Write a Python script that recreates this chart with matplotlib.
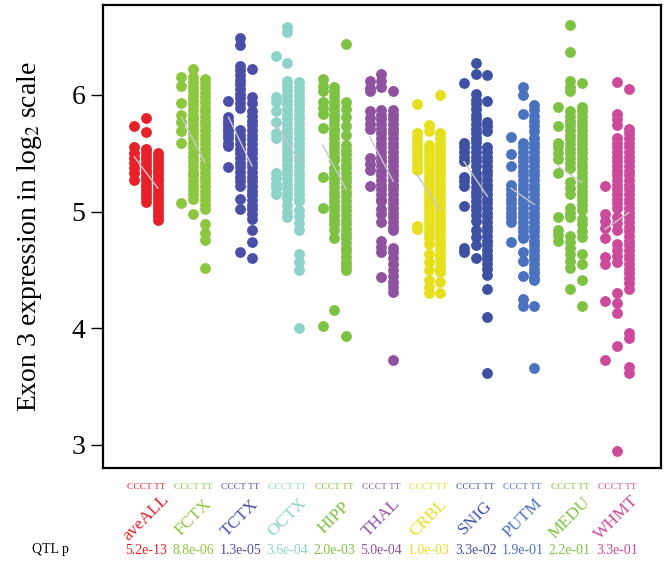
import numpy as np
import matplotlib
matplotlib.use('Agg')
import matplotlib.pyplot as plt

plt.rcParams['font.family'] = ['Liberation Serif', 'DejaVu Serif']
plt.rcParams['mathtext.fontset'] = 'stix'

tissues = ['aveALL', 'FCTX', 'TCTX', 'OCTX', 'HIPP', 'THAL', 'CRBL', 'SNIG', 'PUTM', 'MEDU', 'WHMT']
colors = ['#E8202A', '#8DC63F', '#4B4FA8', '#8ED3C7', '#7DC242', '#8E52A1',
          '#E6E01E', '#3F51A3', '#4A72BF', '#7DC242', '#CC4A9C']
pvals = ['5.2e-13', '8.8e-06', '1.3e-05', '3.6e-04', '2.0e-03', '5.0e-04',
         '1.0e-03', '3.3e-02', '1.9e-01', '2.2e-01', '3.3e-01']
genotype_label = 'CCCT TT'

# expression values per tissue / genotype
aveALL_CC = [5.73, 5.55, 5.50, 5.46, 5.42, 5.37, 5.33, 5.27]
aveALL_CT = [5.80, 5.68, 5.54, 5.51, 5.48, 5.45, 5.42, 5.39, 5.36, 5.33, 5.30, 5.27, 5.24, 5.21, 5.18, 5.15, 5.12, 5.08]
aveALL_TT = [5.50, 5.47, 5.44, 5.41, 5.38, 5.35, 5.32, 5.29, 5.26, 5.23, 5.20, 5.17, 5.14, 5.11, 5.08, 5.05, 5.02, 4.99, 4.96, 4.93]

FCTX_CC = [6.15, 6.08, 5.93, 5.83, 5.77, 5.69, 5.59, 5.07]
FCTX_CT = [6.22, 6.15, 6.11, 6.07, 6.03, 5.99, 5.95, 5.91, 5.87, 5.83, 5.79, 5.75, 5.71, 5.67, 5.63, 5.59, 5.55, 5.51, 5.47, 5.43, 5.39, 5.35, 5.31, 5.27, 5.23, 5.19, 5.15, 5.11, 4.98]
FCTX_TT = [6.14, 6.10, 6.06, 6.02, 5.98, 5.94, 5.90, 5.86, 5.82, 5.78, 5.74, 5.70, 5.66, 5.62, 5.58, 5.54, 5.50, 5.46, 5.42, 5.38, 5.34, 5.30, 5.26, 5.22, 5.18, 5.14, 5.10, 5.06, 5.02, 4.89, 4.82, 4.76, 4.52]

TCTX_CC = [5.95, 5.81, 5.78, 5.75, 5.72, 5.69, 5.66, 5.63, 5.59, 5.56, 5.38]
TCTX_CT = [6.49, 6.43, 6.25, 6.21, 6.17, 6.13, 6.09, 6.05, 6.01, 5.97, 5.93, 5.89, 5.70, 5.66, 5.62, 5.58, 5.54, 5.50, 5.46, 5.42, 5.38, 5.34, 5.30, 5.26, 5.22, 5.11, 5.02, 4.65]
TCTX_TT = [6.22, 5.98, 5.93, 5.86, 5.82, 5.78, 5.74, 5.70, 5.66, 5.62, 5.58, 5.54, 5.50, 5.46, 5.42, 5.38, 5.34, 5.30, 5.26, 5.22, 5.18, 5.14, 5.10, 5.06, 5.02, 4.98, 4.94, 4.84, 4.74, 4.60]

OCTX_CC = [6.33, 5.98, 5.94, 5.86, 5.77, 5.67, 5.63, 5.33, 5.29, 5.24, 5.20, 5.15]
OCTX_CT = [6.58, 6.54, 6.27, 6.12, 6.08, 6.04, 6.00, 5.96, 5.92, 5.88, 5.84, 5.80, 5.76, 5.72, 5.68, 5.64, 5.60, 5.56, 5.52, 5.48, 5.44, 5.40, 5.36, 5.32, 5.28, 5.24, 5.20, 5.16, 5.12, 5.06, 5.00, 4.95]
OCTX_TT = [6.11, 6.07, 6.03, 5.99, 5.95, 5.91, 5.87, 5.83, 5.79, 5.75, 5.71, 5.67, 5.63, 5.59, 5.55, 5.51, 5.47, 5.43, 5.39, 5.35, 5.31, 5.27, 5.23, 5.19, 5.15, 5.11, 5.09, 5.01, 4.96, 4.90, 4.84, 4.64, 4.57, 4.50, 4.00]

HIPP_CC = [6.14, 6.08, 6.03, 5.94, 5.89, 5.84, 5.72, 5.30, 5.03, 4.02]
HIPP_CT = [6.07, 6.03, 5.99, 5.95, 5.91, 5.87, 5.83, 5.79, 5.75, 5.71, 5.67, 5.63, 5.59, 5.55, 5.51, 5.47, 5.44, 5.37, 5.33, 5.29, 5.25, 5.21, 5.17, 5.13, 5.09, 5.05, 5.01, 4.97, 4.93, 4.89, 4.84, 4.77, 4.16]
HIPP_TT = [6.44, 5.94, 5.88, 5.81, 5.73, 5.66, 5.57, 5.53, 5.49, 5.45, 5.41, 5.37, 5.33, 5.29, 5.25, 5.21, 5.17, 5.13, 5.09, 5.05, 5.01, 4.97, 4.93, 4.89, 4.85, 4.81, 4.77, 4.73, 4.69, 4.65, 4.61, 4.57, 4.53, 4.50, 3.93]

THAL_CC = [6.12, 6.06, 6.03, 5.86, 5.80, 5.75, 5.71, 5.46, 5.41, 5.36, 5.22]
THAL_CT = [6.18, 6.12, 6.07, 5.87, 5.83, 5.79, 5.75, 5.71, 5.67, 5.63, 5.59, 5.55, 5.51, 5.47, 5.43, 5.39, 5.35, 5.31, 5.27, 5.23, 5.19, 5.15, 5.11, 5.09, 5.02, 4.98, 4.91, 4.75, 4.70, 4.65, 4.44]
THAL_TT = [6.03, 5.87, 5.83, 5.79, 5.75, 5.71, 5.67, 5.63, 5.59, 5.55, 5.51, 5.47, 5.43, 5.39, 5.35, 5.31, 5.27, 5.23, 5.19, 5.15, 5.11, 5.07, 5.03, 4.99, 4.95, 4.91, 4.87, 4.84, 4.69, 4.65, 4.60, 4.55, 4.50, 4.45, 4.40, 4.35, 4.31, 3.73]

CRBL_CC = [5.92, 5.67, 5.63, 5.59, 5.55, 5.51, 5.47, 5.43, 5.39, 5.36, 4.88, 4.85]
CRBL_CT = [5.74, 5.69, 5.57, 5.53, 5.49, 5.45, 5.41, 5.37, 5.33, 5.29, 5.25, 5.21, 5.17, 5.13, 5.09, 5.05, 5.01, 4.97, 4.93, 4.89, 4.85, 4.81, 4.77, 4.72, 4.64, 4.57, 4.50, 4.41, 4.35, 4.30]
CRBL_TT = [6.00, 5.67, 5.63, 5.59, 5.55, 5.51, 5.47, 5.43, 5.39, 5.35, 5.31, 5.27, 5.23, 5.19, 5.15, 5.11, 5.07, 5.03, 4.99, 4.95, 4.91, 4.87, 4.83, 4.79, 4.75, 4.71, 4.67, 4.63, 4.59, 4.55, 4.51, 4.48, 4.40, 4.30]

SNIG_CC = [6.10, 5.59, 5.55, 5.51, 5.47, 5.43, 5.30, 5.26, 5.22, 5.05, 4.69, 4.65]
SNIG_CT = [6.27, 6.18, 6.01, 5.96, 5.92, 5.88, 5.83, 5.79, 5.75, 5.71, 5.67, 5.63, 5.60, 5.55, 5.51, 5.47, 5.43, 5.39, 5.33, 5.29, 5.25, 5.21, 5.17, 5.13, 5.09, 5.05, 5.01, 4.97, 4.92, 4.84, 4.78, 4.71, 4.60]
SNIG_TT = [6.17, 5.95, 5.77, 5.73, 5.69, 5.55, 5.51, 5.47, 5.43, 5.39, 5.35, 5.31, 5.27, 5.23, 5.19, 5.15, 5.11, 5.07, 5.03, 4.99, 4.95, 4.91, 4.87, 4.83, 4.79, 4.75, 4.71, 4.67, 4.63, 4.59, 4.55, 4.51, 4.46, 4.34, 4.10, 3.62]

PUTM_CC = [5.64, 5.49, 5.39, 5.23, 5.19, 5.15, 5.11, 5.07, 5.03, 4.99, 4.95, 4.91, 4.74]
PUTM_CT = [6.07, 6.00, 5.84, 5.59, 5.55, 5.51, 5.47, 5.43, 5.39, 5.35, 5.31, 5.27, 5.23, 5.19, 5.15, 5.11, 5.07, 5.03, 4.99, 4.95, 4.91, 4.87, 4.83, 4.79, 4.77, 4.65, 4.58, 4.45, 4.25, 4.19]
PUTM_TT = [5.91, 5.87, 5.82, 5.78, 5.73, 5.69, 5.63, 5.59, 5.55, 5.51, 5.47, 5.43, 5.39, 5.35, 5.31, 5.27, 5.23, 5.19, 5.15, 5.11, 5.07, 5.03, 4.99, 4.95, 4.91, 4.87, 4.83, 4.79, 4.75, 4.71, 4.67, 4.63, 4.59, 4.55, 4.51, 4.47, 4.43, 4.41, 4.19, 3.66]

MEDU_CC = [5.90, 5.73, 5.59, 5.55, 5.50, 5.45, 5.33, 4.95, 4.84, 4.80, 4.75]
MEDU_CT = [6.60, 6.37, 6.12, 6.07, 6.03, 5.86, 5.82, 5.78, 5.74, 5.70, 5.66, 5.62, 5.58, 5.54, 5.50, 5.46, 5.42, 5.37, 5.25, 5.20, 5.15, 5.03, 4.99, 4.95, 4.79, 4.74, 4.69, 4.64, 4.58, 4.52, 4.34]
MEDU_TT = [6.10, 5.90, 5.86, 5.82, 5.78, 5.74, 5.70, 5.66, 5.62, 5.58, 5.54, 5.50, 5.46, 5.42, 5.38, 5.34, 5.30, 5.26, 5.22, 5.18, 5.14, 5.10, 5.06, 5.01, 4.94, 4.89, 4.83, 4.78, 4.64, 4.55, 4.41, 4.19]

WHMT_CC = [5.22, 4.98, 4.92, 4.86, 4.77, 4.61, 4.55, 4.23, 3.73]
WHMT_CT = [6.11, 5.84, 5.79, 5.74, 5.63, 5.59, 5.55, 5.51, 5.47, 5.43, 5.39, 5.35, 5.31, 5.27, 5.23, 5.19, 5.15, 5.11, 5.07, 5.03, 4.95, 4.90, 4.84, 4.72, 4.67, 4.62, 4.57, 4.30, 4.22, 4.13, 3.85, 2.95]
WHMT_TT = [6.05, 5.71, 5.67, 5.63, 5.59, 5.55, 5.51, 5.47, 5.43, 5.39, 5.35, 5.31, 5.27, 5.23, 5.19, 5.15, 5.11, 5.07, 5.03, 4.99, 4.95, 4.91, 4.87, 4.83, 4.79, 4.75, 4.71, 4.67, 4.63, 4.59, 4.55, 4.51, 4.47, 4.43, 4.39, 4.34, 3.96, 3.92, 3.67, 3.62]

# grey trend line, value at CC and at TT
fit_CC = [5.47, 5.81, 5.81, 5.76, 5.57, 5.64, 5.32, 5.43, 5.20, 5.39, 4.85]
fit_TT = [5.20, 5.42, 5.39, 5.43, 5.19, 5.26, 5.01, 5.13, 5.06, 5.25, 4.99]

groups = [
    [aveALL_CC, aveALL_CT, aveALL_TT],
    [FCTX_CC, FCTX_CT, FCTX_TT],
    [TCTX_CC, TCTX_CT, TCTX_TT],
    [OCTX_CC, OCTX_CT, OCTX_TT],
    [HIPP_CC, HIPP_CT, HIPP_TT],
    [THAL_CC, THAL_CT, THAL_TT],
    [CRBL_CC, CRBL_CT, CRBL_TT],
    [SNIG_CC, SNIG_CT, SNIG_TT],
    [PUTM_CC, PUTM_CT, PUTM_TT],
    [MEDU_CC, MEDU_CT, MEDU_TT],
    [WHMT_CC, WHMT_CT, WHMT_TT],
]

offsets = [-0.25, 0.0, 0.25]

fig = plt.figure(figsize=(6.66, 5.73), dpi=100)
ax = fig.add_axes([0.155, 0.183, 0.837, 0.808])

for i, tissue in enumerate(tissues):
    xc = i + 1
    for j, vals in enumerate(groups[i]):
        x = np.full(len(vals), xc + offsets[j])
        ax.plot(x, vals, 'o', color=colors[i], markersize=7.8, markeredgewidth=0)
    ax.plot([xc + offsets[0], xc + offsets[2]], [fit_CC[i], fit_TT[i]],
            color='#C8C8C8', lw=1.0, zorder=5)

ax.set_xlim(0.09, 11.93)
ax.set_ylim(2.80, 6.77)
ax.set_xticks([])
ax.set_yticks([3, 4, 5, 6])
ax.tick_params(axis='y', labelsize=20, length=9, width=1, direction='out', pad=4)
for s in ax.spines.values():
    s.set_linewidth(1.6)
ax.set_ylabel('Exon 3 expression in log$_2$ scale', fontsize=20, labelpad=20)

trans = ax.get_xaxis_transform()
for i, tissue in enumerate(tissues):
    xc = i + 1
    ax.text(xc, -0.041, genotype_label, transform=trans, color=colors[i],
            fontsize=6.8, ha='center', va='center', clip_on=False)
    ax.text(xc, -0.107, tissue, transform=trans, color=colors[i], fontsize=12.5,
            rotation=45, ha='center', va='center', rotation_mode='anchor', clip_on=False)
    ax.text(xc, -0.178, pvals[i], transform=trans, color=colors[i], fontsize=10,
            ha='center', va='center', clip_on=False)

fig.text(0.075, 1 - 550 / 573, 'QTL p', fontsize=10, ha='center', va='center')

fig.savefig('out.png', dpi=100)
